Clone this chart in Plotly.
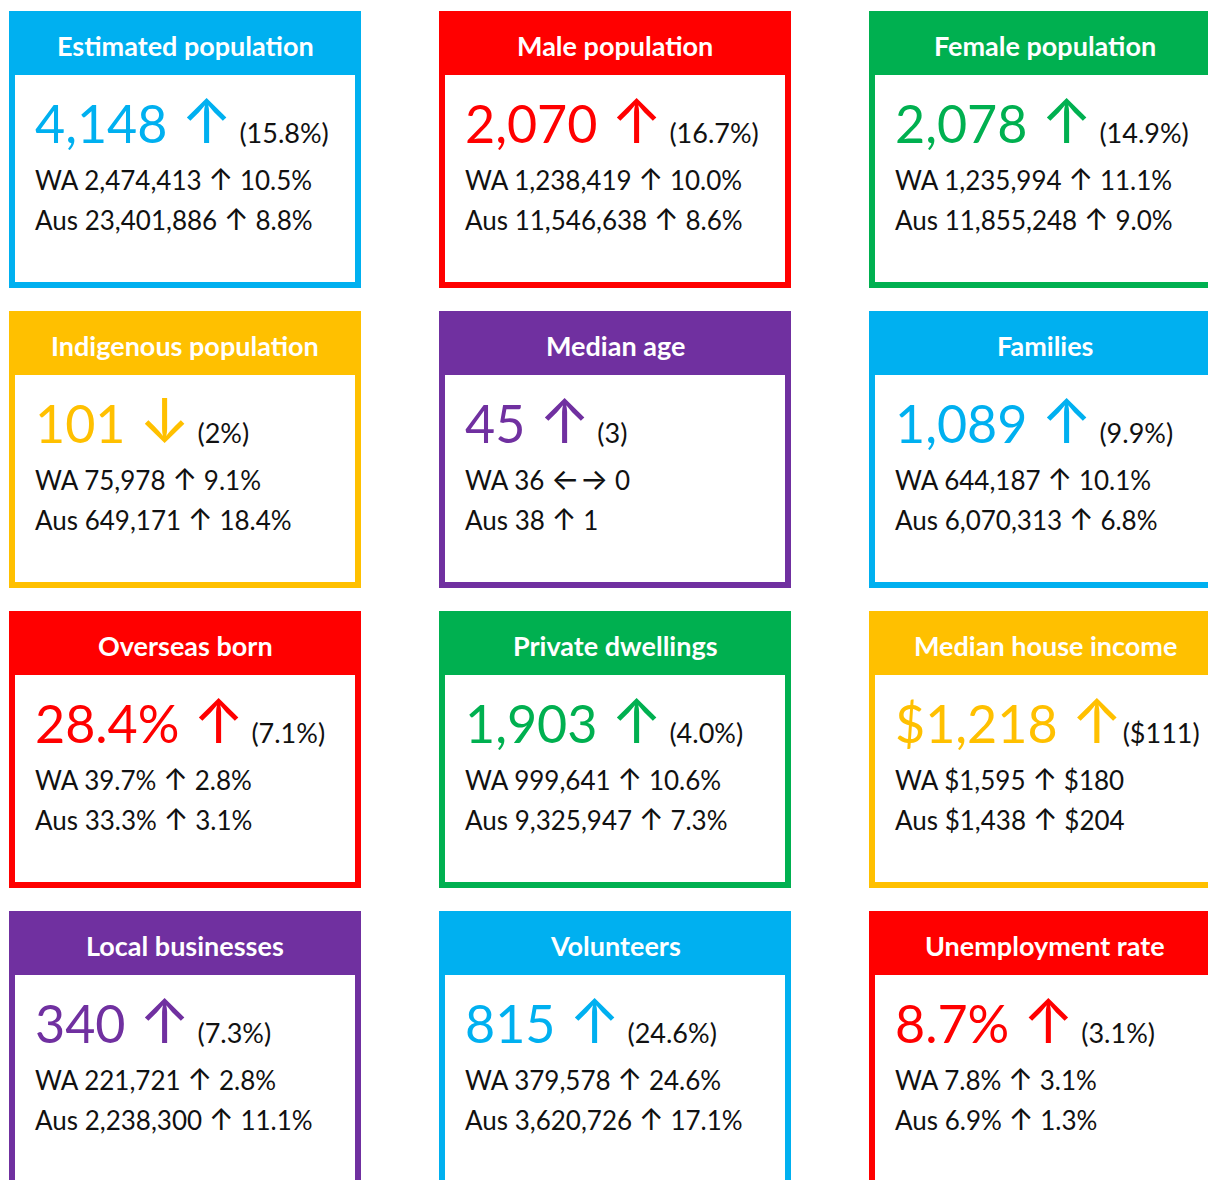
import plotly.graph_objects as go

# ---- data ----
titles = ["Estimated population", "Male population", "Female population",
          "Indigenous population", "Median age", "Families",
          "Overseas born", "Private dwellings", "Median house income",
          "Local businesses", "Volunteers", "Unemployment rate"]
card_colors = ["#00B0F0", "#FF0000", "#00B050",
               "#FFC000", "#7030A0", "#00B0F0",
               "#FF0000", "#00B050", "#FFC000",
               "#7030A0", "#00B0F0", "#FF0000"]
values = ["4,148", "2,070", "2,078", "101", "45", "1,089",
          "28.4%", "1,903", "$1,218", "340", "815", "8.7%"]
trend = ["↑", "↑", "↑", "↓", "↑", "↑", "↑", "↑", "↑", "↑", "↑", "↑"]
changes = [" (15.8%)", " (16.7%)", " (14.9%)", " (2%)", " (3)", " (9.9%)",
           " (7.1%)", " (4.0%)", "($111)", " (7.3%)", " (24.6%)", " (3.1%)"]
wa_values = ["2,474,413", "1,238,419", "1,235,994", "75,978", "36", "644,187",
             "39.7%", "999,641", "$1,595", "221,721", "379,578", "7.8%"]
wa_trend = ["↑", "↑", "↑", "↑", "←→", "↑", "↑", "↑", "↑", "↑", "↑", "↑"]
wa_changes = ["10.5%", "10.0%", "11.1%", "9.1%", "0", "10.1%",
              "2.8%", "10.6%", "$180", "2.8%", "24.6%", "3.1%"]
aus_values = ["23,401,886", "11,546,638", "11,855,248", "649,171", "38", "6,070,313",
              "33.3%", "9,325,947", "$1,438", "2,238,300", "3,620,726", "6.9%"]
aus_trend = ["↑"] * 12
aus_changes = ["8.8%", "8.6%", "9.0%", "18.4%", "1", "6.8%",
               "3.1%", "7.3%", "$204", "11.1%", "17.1%", "1.3%"]

# ---- layout ----
W, H = 1208, 1180
COLS = 3
X0, DX = 9, 430
Y0, DY = 11, 300
CW, CH = 352, 277
HEAD = 64
BW = 6
FONT = "Lato, 'Open Sans', 'DejaVu Sans', sans-serif"
ARROW_FONT = "Inter"


def arrow(a, size, color=None):
    st = f"font-family:{ARROW_FONT};font-size:{size}px"
    if color:
        st += f";color:{color}"
    return f"<span style='{st}'>{a}</span>"


fig = go.Figure()
shapes = []
annotations = []

for i, title in enumerate(titles):
    r, c = divmod(i, COLS)
    x0 = X0 + c * DX
    y0 = Y0 + r * DY
    col = card_colors[i]
    shapes.append(dict(type="rect", xref="x", yref="y",
                       x0=x0 + BW / 2, x1=x0 + CW - BW / 2,
                       y0=y0 + BW / 2, y1=y0 + CH - BW / 2,
                       line=dict(color=col, width=BW), fillcolor="white"))
    shapes.append(dict(type="rect", xref="x", yref="y",
                       x0=x0, x1=x0 + CW, y0=y0, y1=y0 + HEAD,
                       line=dict(width=0), fillcolor=col))
    annotations.append(dict(x=x0 + CW / 2, y=y0 + 34, xref="x", yref="y",
                            text="<b>" + title + "</b>", showarrow=False,
                            xanchor="center", yanchor="middle",
                            font=dict(family=FONT, size=27, color="white")))
    main = (f"<span style='font-size:52px;color:{col}'>{values[i]} </span>"
            + arrow(trend[i], 62, col)
            + f"<span style='font-size:27px;color:#111'>{changes[i]}</span>")
    annotations.append(dict(x=x0 + 24, y=y0 + 109, xref="x", yref="y",
                            text=main, showarrow=False,
                            xanchor="left", yanchor="middle",
                            font=dict(family=FONT, size=27, color="#111")))
    annotations.append(dict(x=x0 + 24, y=y0 + 168, xref="x", yref="y",
                            text=f"WA {wa_values[i]} " + arrow(wa_trend[i], 30) + f" {wa_changes[i]}",
                            showarrow=False, xanchor="left", yanchor="middle",
                            font=dict(family=FONT, size=26, color="#111")))
    annotations.append(dict(x=x0 + 24, y=y0 + 208, xref="x", yref="y",
                            text=f"Aus {aus_values[i]} " + arrow(aus_trend[i], 30) + f" {aus_changes[i]}",
                            showarrow=False, xanchor="left", yanchor="middle",
                            font=dict(family=FONT, size=26, color="#111")))

fig.update_layout(
    width=W, height=H,
    margin=dict(l=0, r=0, t=0, b=0),
    paper_bgcolor="white", plot_bgcolor="white",
    xaxis=dict(range=[0, W], visible=False, fixedrange=True),
    yaxis=dict(range=[H, 0], visible=False, fixedrange=True),
    shapes=shapes, annotations=annotations,
    showlegend=False,
)

fig.write_html("out.html", config={"displayModeBar": False},
               post_script="document.body.style.margin='0';document.body.style.overflow='hidden';")
